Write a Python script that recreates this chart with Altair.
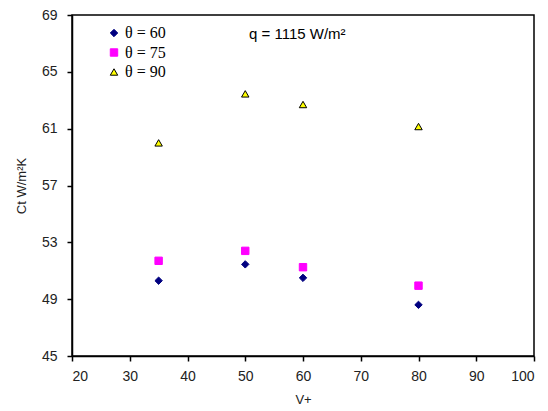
import altair as alt
import pandas as pd

v_plus = [35, 50, 60, 80]
ct_60 = [50.3, 51.45, 50.5, 48.6]
ct_75 = [51.7, 52.4, 51.25, 49.95]
ct_90 = [60.0, 63.45, 62.7, 61.15]
series = ["θ = 60", "θ = 75", "θ = 90"]

rows = []
for name, vals in zip(series, [ct_60, ct_75, ct_90]):
    for v, c in zip(v_plus, vals):
        rows.append({"V": v, "Ct": c, "series": name})
df = pd.DataFrame(rows)

FONT = "Liberation Sans"
SERIF = "Liberation Serif"

pts = alt.Chart(df).mark_point(filled=True, opacity=1, strokeWidth=1).encode(
    x=alt.X("V:Q", title="V+",
            scale=alt.Scale(domain=[20, 100], nice=False, zero=False),
            axis=alt.Axis(values=list(range(20, 101, 10)), grid=False,
                          tickSize=5, labelPadding=8, titlePadding=10)),
    y=alt.Y("Ct:Q", title="Ct W/m²K",
            scale=alt.Scale(domain=[45, 69], nice=False, zero=False),
            axis=alt.Axis(values=list(range(45, 70, 4)), grid=False,
                          tickSize=5, labelPadding=10, titlePadding=13)),
    color=alt.Color("series:N", scale=alt.Scale(domain=series, range=["#000080", "#FF00FF", "#FFFF00"]),
                    legend=alt.Legend(title=None, orient="none", legendX=34, legendY=10,
                                      labelFont=SERIF, labelFontSize=16, labelColor="#000",
                                      symbolSize=40, rowPadding=3.5, labelOffset=3,
                                      symbolStrokeWidth=1)),
    shape=alt.Shape("series:N", scale=alt.Scale(domain=series, range=["diamond", "square", "triangle-up"])),
    stroke=alt.Stroke("series:N", scale=alt.Scale(domain=series, range=["#000080", "#FF00FF", "#000000"])),
    size=alt.Size("series:N", scale=alt.Scale(domain=series, range=[55, 55, 75]), legend=None),
)

note = alt.Chart(pd.DataFrame({"t": ["q = 1115 W/m²"]})).mark_text(
    align="left", baseline="middle", font=FONT, fontSize=15, color="#000"
).encode(x=alt.value(177), y=alt.value(19), text="t:N")

chart = alt.layer(pts, note).properties(
    width=462, height=341,
    autosize=alt.AutoSizeParams(type="none"),
    padding={"left": 72, "top": 15, "right": 14, "bottom": 55},
    background="white",
).configure_view(stroke="#000", strokeWidth=1.5).configure_axis(
    domainColor="#000", tickColor="#000", domainWidth=1.5, tickWidth=1.5,
    labelFont=FONT, labelFontSize=14, labelColor="#222",
    titleFont=FONT, titleFontSize=13, titleFontWeight="normal", titleColor="#222",
)

chart.save("out.html", embed_options={"renderer": "svg", "actions": False})
